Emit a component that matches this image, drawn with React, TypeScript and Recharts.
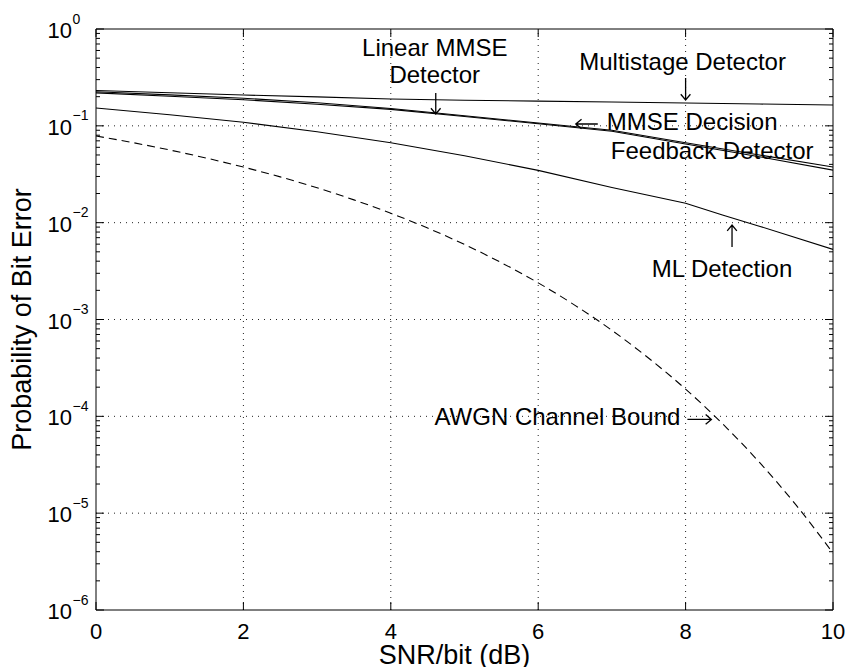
import React from 'react';
import { LineChart, Line, XAxis, YAxis, ReferenceLine, ReferenceDot } from 'recharts';

const FONT = '"Liberation Sans", Arial, Helvetica, sans-serif';

// ---- data ----
const snrDb = [0, 1, 2, 3, 4, 5, 6, 7, 8, 9, 10];
const multistage = [0.232, 0.22, 0.208, 0.199, 0.189, 0.184, 0.18, 0.176, 0.172, 0.168, 0.164];
const linearMmse = [0.225, 0.209, 0.193, 0.173, 0.151, 0.127, 0.107, 0.09, 0.067, 0.05, 0.0375];
const mmseDfe = [0.219, 0.202, 0.186, 0.167, 0.148, 0.125, 0.105, 0.088, 0.065, 0.048, 0.0349];
const mlSnr = [0, 1, 2, 3, 4, 5, 6, 7, 8, 8.5, 9, 10];
const mlDetection = [0.153, 0.13, 0.109, 0.087, 0.067, 0.049, 0.0347, 0.0231, 0.0159, 0.012, 0.0092, 0.0053];
const awgnSnr = [0, 0.5, 1, 1.5, 2, 2.5, 3, 3.5, 4, 4.5, 5, 5.5, 6, 6.5, 7, 7.5, 8, 8.5, 9, 9.5, 10];
const awgnBound = [
  0.0786, 0.0671, 0.0563, 0.0464, 0.0375, 0.0297, 0.0229, 0.0172, 0.0125, 0.0088, 0.00595,
  0.00386, 0.00239, 0.0014, 0.000773, 0.000398, 0.000191, 0.000084, 0.0000336, 0.0000121, 0.00000387,
];
const xTicks = [0, 2, 4, 6, 8, 10];
const yDecades = [-6, -5, -4, -3, -2, -1, 0];
const gridX = [2, 4, 6, 8];
const gridY = [1e-5, 1e-4, 1e-3, 1e-2, 1e-1];

const toPoints = (xs: number[], ys: number[]) => xs.map((x, i) => ({ x, y: ys[i] }));

const yTicks: number[] = [];
yDecades.forEach((d) => {
  if (d === 0) {
    yTicks.push(1);
    return;
  }
  for (let k = 1; k <= 9; k++) yTicks.push(Number((k * Math.pow(10, d)).toPrecision(6)));
});

const isMajor = (v: number) => {
  const lg = Math.log10(v);
  return Math.abs(lg - Math.round(lg)) < 1e-9;
};

const YTickLeft = (props: any) => {
  const { x, y, payload } = props;
  const v = payload.value as number;
  const major = isMajor(v);
  const exp = Math.round(Math.log10(v));
  return (
    <g>
      <line x1={x} y1={y} x2={x + (major ? 8 : 4)} y2={y} stroke="#000" strokeWidth={1} />
      {major && (
        <text x={x - 24} y={y + 9} textAnchor="end" fontSize={22} fontFamily={FONT} fill="#000">
          10
        </text>
      )}
      {major && (
        <text x={x - 23.5} y={y - 5.5} textAnchor="start" fontSize={14} fontFamily={FONT} fill="#000">
          {exp === 0 ? '0' : '\u2212' + String(-exp)}
        </text>
      )}
    </g>
  );
};

const YTickRight = (props: any) => {
  const { x, y, payload } = props;
  const major = isMajor(payload.value as number);
  return <line x1={x} y1={y} x2={x - (major ? 8 : 4)} y2={y} stroke="#000" strokeWidth={1} />;
};

const XTickBottom = (props: any) => {
  const { x, y, payload } = props;
  return (
    <g>
      <line x1={x} y1={y} x2={x} y2={y - 8} stroke="#000" strokeWidth={1} />
      <text x={x} y={y + 29} textAnchor="middle" fontSize={22} fontFamily={FONT} fill="#000">
        {String(payload.value)}
      </text>
    </g>
  );
};

const XTickTop = (props: any) => {
  const { x, y } = props;
  return <line x1={x} y1={y} x2={x} y2={y + 8} stroke="#000" strokeWidth={1} />;
};

const arrowPath = (x1: number, y1: number, x2: number, y2: number) => {
  const ang = Math.atan2(y2 - y1, x2 - x1);
  const L = 7.5;
  const a = (40 * Math.PI) / 180;
  const hx1 = x2 - L * Math.cos(ang - a);
  const hy1 = y2 - L * Math.sin(ang - a);
  const hx2 = x2 - L * Math.cos(ang + a);
  const hy2 = y2 - L * Math.sin(ang + a);
  return `M${x1},${y1}L${x2},${y2}M${hx1},${hy1}L${x2},${y2}L${hx2},${hy2}`;
};

type Line2 = { text: string; dx: number; dy: number; anchor: 'start' | 'middle' | 'end' };
const makeAnno = (lines: Line2[], tail: [number, number]) => (p: any) => {
  const cx = p.cx as number;
  const cy = p.cy as number;
  if (cx == null || cy == null || isNaN(cx) || isNaN(cy)) return <g />;
  return (
    <g>
      <path d={arrowPath(cx + tail[0], cy + tail[1], cx, cy)} stroke="#000" strokeWidth={1.3} fill="none" />
      {lines.map((l, i) => (
        <text key={i} x={cx + l.dx} y={cy + l.dy} textAnchor={l.anchor} fontSize={24} fontFamily={FONT} fill="#000">
          {l.text}
        </text>
      ))}
    </g>
  );
};

const annoLinear = makeAnno(
  [
    { text: 'Linear MMSE', dx: -1, dy: -58, anchor: 'middle' },
    { text: 'Detector', dx: -1, dy: -31, anchor: 'middle' },
  ],
  [0, -21]
);
const annoMulti = makeAnno([{ text: 'Multistage Detector', dx: -3, dy: -30, anchor: 'middle' }], [0, -22]);
const annoDfe = makeAnno(
  [
    { text: 'MMSE Decision', dx: 31, dy: 6, anchor: 'start' },
    { text: 'Feedback Detector', dx: 35, dy: 35, anchor: 'start' },
  ],
  [22, 0]
);
const annoMl = makeAnno([{ text: 'ML Detection', dx: -10, dy: 52, anchor: 'middle' }], [0, 22]);
const annoAwgn = makeAnno([{ text: 'AWGN Channel Bound', dx: -31, dy: 6, anchor: 'end' }], [-24, 0]);

const XLabel = (props: any) => {
  const vb = props.viewBox || { x: 96, y: 610, width: 737, height: 57 };
  return (
    <text x={vb.x + vb.width / 2 - 10} y={vb.y + 54} textAnchor="middle" fontSize={27} fontFamily={FONT} fill="#000">
      SNR/bit (dB)
    </text>
  );
};

const YLabel = (props: any) => {
  const vb = props.viewBox || { x: 0, y: 29, width: 96, height: 581 };
  const cx = vb.x + 31;
  const cy = vb.y + vb.height / 2;
  return (
    <text x={cx} y={cy} transform={`rotate(-90 ${cx} ${cy})`} textAnchor="middle" fontSize={27} fontFamily={FONT} fill="#000">
      Probability of Bit Error
    </text>
  );
};

export default function App() {
  return (
    <div style={{ position: 'fixed', left: 0, top: 0, width: 849, height: 667, background: '#fff' }}>
      <LineChart width={849} height={667} margin={{ top: 28, right: 0, bottom: 0, left: 0 }}>
        <XAxis
          xAxisId="b"
          dataKey="x"
          type="number"
          domain={[0, 10]}
          ticks={xTicks}
          interval={0}
          allowDataOverflow
          height={57}
          tickLine={false}
          tickSize={0}
          tickMargin={0}
          tick={<XTickBottom />}
          axisLine={{ stroke: '#000', strokeWidth: 1 }}
          label={<XLabel />}
        />
        <XAxis
          xAxisId="t"
          orientation="top"
          dataKey="x"
          type="number"
          domain={[0, 10]}
          ticks={xTicks}
          interval={0}
          allowDataOverflow
          height={1}
          tickLine={false}
          tickSize={0}
          tickMargin={0}
          tick={<XTickTop />}
          axisLine={{ stroke: '#000', strokeWidth: 1 }}
        />
        <YAxis
          yAxisId="l"
          type="number"
          scale="log"
          domain={[1e-6, 1]}
          ticks={yTicks}
          interval={0}
          allowDataOverflow
          width={96}
          tickLine={false}
          tickSize={0}
          tickMargin={0}
          tick={<YTickLeft />}
          axisLine={{ stroke: '#000', strokeWidth: 1 }}
          label={<YLabel />}
        />
        <YAxis
          yAxisId="r"
          orientation="right"
          type="number"
          scale="log"
          domain={[1e-6, 1]}
          ticks={yTicks}
          interval={0}
          allowDataOverflow
          width={16}
          tickLine={false}
          tickSize={0}
          tickMargin={0}
          tick={<YTickRight />}
          axisLine={{ stroke: '#000', strokeWidth: 1 }}
        />
        {gridX.map((gx) => (
          <ReferenceLine key={'gx' + gx} x={gx} xAxisId="b" yAxisId="l" stroke="#222" strokeDasharray="1 5" strokeWidth={1} />
        ))}
        {gridY.map((gy) => (
          <ReferenceLine key={'gy' + gy} y={gy} xAxisId="b" yAxisId="l" stroke="#222" strokeDasharray="1 5" strokeWidth={1} />
        ))}
        <Line data={toPoints(snrDb, multistage)} dataKey="y" xAxisId="b" yAxisId="l" type="linear" stroke="#000" strokeWidth={1.1} dot={false} isAnimationActive={false} />
        <Line data={toPoints(snrDb, linearMmse)} dataKey="y" xAxisId="b" yAxisId="l" type="linear" stroke="#000" strokeWidth={1.1} dot={false} isAnimationActive={false} />
        <Line data={toPoints(snrDb, mmseDfe)} dataKey="y" xAxisId="b" yAxisId="l" type="linear" stroke="#000" strokeWidth={1.1} dot={false} isAnimationActive={false} />
        <Line data={toPoints(mlSnr, mlDetection)} dataKey="y" xAxisId="b" yAxisId="l" type="linear" stroke="#000" strokeWidth={1.1} dot={false} isAnimationActive={false} />
        <Line data={toPoints(awgnSnr, awgnBound)} dataKey="y" xAxisId="b" yAxisId="l" type="monotone" stroke="#000" strokeWidth={1.1} strokeDasharray="8 5" dot={false} isAnimationActive={false} />
        <ReferenceDot x={4.61} y={0.1324} xAxisId="b" yAxisId="l" r={0} shape={annoLinear} />
        <ReferenceDot x={8.0} y={0.185} xAxisId="b" yAxisId="l" r={0} shape={annoMulti} />
        <ReferenceDot x={6.51} y={0.1044} xAxisId="b" yAxisId="l" r={0} shape={annoDfe} />
        <ReferenceDot x={8.63} y={0.00944} xAxisId="b" yAxisId="l" r={0} shape={annoMl} />
        <ReferenceDot x={8.35} y={0.0000929} xAxisId="b" yAxisId="l" r={0} shape={annoAwgn} />
      </LineChart>
    </div>
  );
}
